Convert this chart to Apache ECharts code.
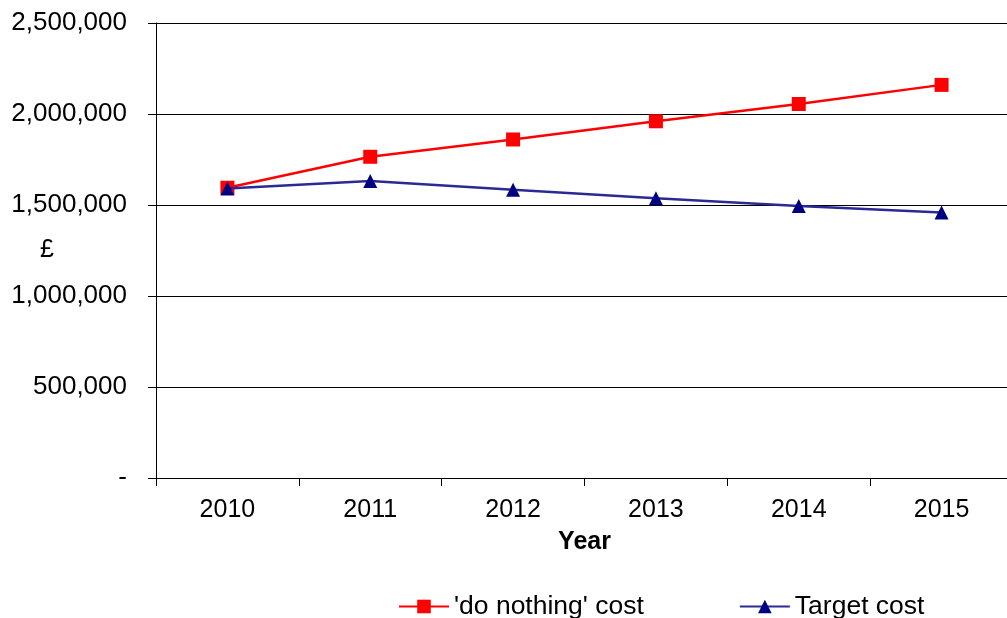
<!DOCTYPE html>
<html>
<head>
<meta charset="utf-8">
<script src="https://cdn.jsdelivr.net/npm/echarts@6/dist/echarts.min.js"></script>
<style>
html,body{margin:0;padding:0;background:#fff;}
#chart{width:1007px;height:618px;}
</style>
</head>
<body>
<div id="chart"></div>
<script>
const years = ['2010', '2011', '2012', '2013', '2014', '2015'];
const doNothingCost = [1595000, 1765000, 1860000, 1960000, 2055000, 2160000];
const targetCost = [1590000, 1632000, 1584000, 1537000, 1495000, 1459000];
const yTicks = [0, 500000, 1000000, 1500000, 2000000, 2500000];

const FONT = 'Arial, "Liberation Sans", sans-serif';
const chart = echarts.init(document.getElementById('chart'), null, {renderer: 'canvas'});

function fmt(v) {
  if (v === 0) return '-';
  return v.toString().replace(/\B(?=(\d{3})+(?!\d))/g, ',');
}

chart.setOption({
  animation: false,
  backgroundColor: '#ffffff',
  grid: {left: 156, top: 23, right: -6, bottom: 140, containLabel: false, outerBoundsMode: 'none'},
  legend: {
    left: 393,
    top: 588,
    itemWidth: 50,
    itemHeight: 17,
    itemGap: 95,
    textStyle: {fontFamily: FONT, fontSize: 26.5, color: '#000'},
    data: ["'do nothing' cost", 'Target cost']
  },
  xAxis: {
    type: 'category',
    data: years,
    boundaryGap: true,
    name: 'Year',
    nameLocation: 'middle',
    nameGap: 52,
    nameMoveOverlap: false,
    nameTextStyle: {fontFamily: FONT, fontSize: 25, fontWeight: 'bold', color: '#000'},
    axisLine: {show: true, lineStyle: {color: '#000', width: 1}},
    axisTick: {show: true, length: 8, lineStyle: {color: '#000'}},
    axisLabel: {fontFamily: FONT, fontSize: 25, color: '#000', margin: 20},
    splitLine: {show: false}
  },
  yAxis: {
    type: 'value',
    min: yTicks[0],
    max: yTicks[yTicks.length - 1],
    interval: 500000,
    name: '£',
    nameLocation: 'middle',
    nameRotate: 0,
    nameGap: 102,
    nameMoveOverlap: false,
    nameTextStyle: {fontFamily: FONT, fontSize: 25, color: '#000'},
    axisLine: {show: true, lineStyle: {color: '#000', width: 1}},
    axisTick: {show: true, length: 8, lineStyle: {color: '#000'}},
    axisLabel: {fontFamily: FONT, fontSize: 26, color: '#000', margin: 29, formatter: fmt},
    splitLine: {show: true, lineStyle: {color: '#000', width: 1}}
  },
  series: [
    {
      name: "'do nothing' cost",
      type: 'line',
      data: doNothingCost,
      symbol: 'rect',
      symbolSize: 14,
      z: 2,
      lineStyle: {color: '#ff0000', width: 2.5},
      itemStyle: {color: '#ff0000'}
    },
    {
      name: 'Target cost',
      type: 'line',
      data: targetCost,
      symbol: 'triangle',
      symbolSize: 14,
      z: 3,
      lineStyle: {color: '#2a2a94', width: 2.5},
      itemStyle: {color: '#000080'}
    }
  ]
});
</script>
</body>
</html>
